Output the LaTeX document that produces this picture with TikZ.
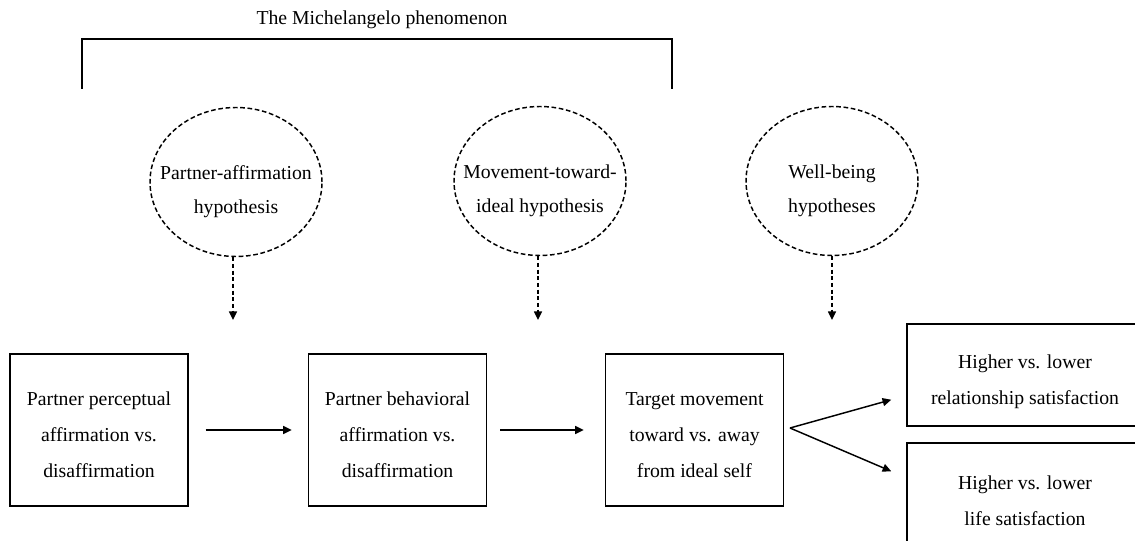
\documentclass[tikz,border=0pt]{standalone}
\usepackage{fontspec}
\setmainfont{Liberation Serif}
\usetikzlibrary{arrows.meta,shapes.geometric}

\begin{document}
\begin{tikzpicture}[x=0.75pt, y=-0.75pt, align=center,
    font=\fontsize{14.8pt}{26pt}\selectfont,
    hypo/.style={draw=black, line width=1.1pt, dash pattern=on 3.5pt off 2pt, ellipse, minimum width=129pt, minimum height=111.75pt, inner xsep=-14pt, inner ysep=0pt, text height=51pt},
    stage/.style={draw=black, line width=1.1pt, rectangle, minimum width=133.5pt, minimum height=114pt, inner sep=0pt, font=\fontsize{14.8pt}{27pt}\selectfont, text height=72pt},
    outcome/.style={draw=black, line width=1.1pt, rectangle, minimum width=177pt, minimum height=76.5pt, inner sep=0pt, font=\fontsize{14.8pt}{27pt}\selectfont, text height=48pt},
    link/.style={line width=1.1pt, -{Triangle[length=6.5pt, width=6pt]}},
    dlink/.style={line width=1.1pt, dash pattern=on 3pt off 2pt, -{Triangle[length=6.5pt, width=6pt]}}]
      \clip (0,0) rectangle (1135,541);
      \useasboundingbox (0,0) rectangle (1135,541);
      %
      \node (title) at (382,20) {The Michelangelo phenomenon};
      \draw[line width=1.1pt] (82,89) -- (82,39) -- (672,39) -- (672,89);
      %
      \node[hypo] (E1) at (236,182) {Partner-affirmation\\hypothesis};
      \node[hypo] (E2) at (540,181) {Movement-toward-\\ideal hypothesis};
      \node[hypo] (E3) at (832,181) {Well-being\\hypotheses};
      %
      \coordinate (t1) at (233,320);
      \coordinate (t2) at (538,320);
      \coordinate (t3) at (832,320);
      \draw[dlink] (E1.south -| t1) -- (t1);
      \draw[dlink] (E2.south -| t2) -- (t2);
      \draw[dlink] (E3.south -| t3) -- (t3);
      %
      \node[stage] (B1) at (99,430) {Partner perceptual\\affirmation vs.\\disaffirmation};
      \node[stage] (B2) at (397.5,430) {Partner behavioral\\affirmation vs.\\disaffirmation};
      \node[stage] (B3) at (694.5,430) {Target movement\\toward vs. away\\from ideal self};
      %
      \node[outcome] (B4) at (1025,375) {Higher vs. lower\\relationship satisfaction};
      \node[outcome] (B5) at (1025,494) {Higher vs. lower\\life satisfaction};
      %
      \draw[link, shorten <=17pt*0.75, shorten >=16pt*0.75] (B1.east) -- (B2.west);
      \draw[link, shorten <=13pt*0.75, shorten >=21pt*0.75] (B2.east) -- (B3.west);
      %
      \coordinate (split) at (790,428);
      \draw[link] (split) -- ([shift={(-15,-27)}]B4.south west);
      \draw[link] (split) -- ([shift={(-15,29)}]B5.north west);
    \end{tikzpicture}
\end{document}
